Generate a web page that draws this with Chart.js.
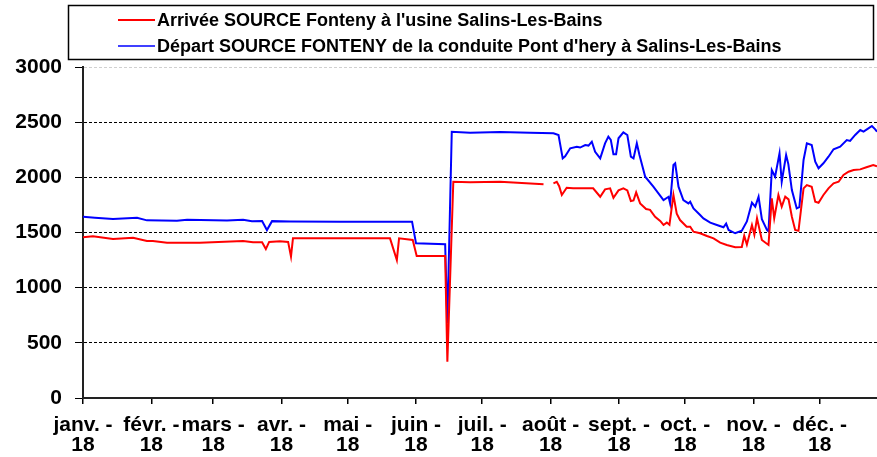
<!DOCTYPE html>
<html lang="fr">
<head>
<meta charset="UTF-8">
<title>Débits SOURCE Fonteny 2018</title>
<script src="https://cdn.jsdelivr.net/npm/chart.js"></script>
<style>
  html, body { margin: 0; padding: 0; background: #fff; }
  #wrap { width: 877px; height: 457px; position: relative; }
</style>
</head>
<body>
<div id="wrap"><canvas id="debitChart"></canvas></div>
<script>
// jours depuis le 1er janvier 2018
const monthStarts = [0, 31, 59, 90, 120, 151, 181, 212, 243, 273, 304, 334];
const monthLabels = ['janv. -', 'févr. -', 'mars -', 'avr. -', 'mai -', 'juin -',
                     'juil. -', 'août -', 'sept. -', 'oct. -', 'nov. -', 'déc. -'];
const yearLabel = '18';

const redLabel = "Arrivée SOURCE Fonteny à l'usine Salins-Les-Bains";
const blueLabel = "Départ SOURCE FONTENY de la conduite Pont d'hery à Salins-Les-Bains";

const redDays = [0, 4.5, 13.6, 22.7, 29, 31.7, 38.1, 53, 72.6, 77.1, 81.2, 82.9, 84.4, 89.3, 93, 94.3, 95.2,
  116.6, 139.2, 142.3, 143.3, 149.5, 151.3, 164.2, 165.2, 167.9, 175.5, 189.1, 208.8, 210.5,
  213.3, 214.8, 215.9, 217.1, 219.3, 222.2, 231.3, 234.5, 236.7, 239, 240.5, 242.8, 245, 246.8,
  248.4, 249.6, 250.8, 252.6, 255.3, 257.1, 259.4, 261.7, 263.2, 264.7, 265.9, 267.7, 269.2,
  270.7, 273.7, 275.3, 276.8, 279.8, 282.9, 285.9, 288.9, 291.9, 295.7, 298.7, 299.8, 301,
  303.3, 304.4, 305.6, 307.8, 310.8, 312.3, 313.4, 315.3, 316.8, 318.4, 319.9, 321.4, 322.9,
  324.4, 326.7, 328.2, 330.4, 332, 333.5, 335.7, 338, 340.3, 342.6, 344.8, 347.1, 349.4,
  352.4, 355.2, 358.3, 360];
const redValues = [1456, 1466, 1441, 1452, 1423, 1423, 1408, 1408, 1423, 1412, 1412, 1350, 1415, 1420, 1415, 1281, 1447,
  1447, 1447, 1251, 1447, 1432, 1287, 1287, 329, 1960, 1955, 1960, 1937, null,
  1946, 1960, 1920, 1840, 1906, 1900, 1900, 1824, 1891, 1900, 1815, 1882, 1900, 1882,
  1785, 1790, 1864, 1764, 1713, 1705, 1643, 1605, 1568, 1590, 1570, 1840, 1670,
  1613, 1553, 1553, 1507, 1493, 1468, 1447, 1408, 1387, 1366, 1368, 1470, 1390,
  1568, 1480, 1628, 1432, 1387, 1810, 1628, 1840, 1734, 1824, 1800, 1643, 1523,
  1515, 1900, 1930, 1915, 1779, 1770, 1840, 1900, 1946, 1960, 2021, 2051, 2066,
  2072, 2091, 2112, 2100];

const blueDays = [0, 5.4, 13.6, 24.5, 29, 42.6, 47.2, 65.3, 72.6, 76.6, 81.2, 83.4, 85.7, 93.9, 116.6,
  149.2, 151, 164.2, 165.2, 167.2, 175.5, 189.1, 202.7, 213.3, 215.6, 217.5, 218.6, 220.9,
  223.9, 225.4, 227.7, 229.2, 230.7, 232.2, 234.5, 236.7, 238.2, 239.3, 240.5, 241.7, 242.8,
  245, 246.8, 248.4, 249.6, 251.1, 252.3, 254.9, 258.6, 263.2, 265.5, 266.2, 267.7, 268.5,
  270, 272.2, 274.5, 275.3, 276.8, 279.8, 281.3, 284.4, 287.4, 290.4, 291.6, 292.7, 295.7,
  298.7, 301, 303.3, 304.8, 306.3, 307.8, 310.1, 310.8, 312.3, 313.8, 315.8, 316.8, 318.8,
  319.8, 321.4, 323.6, 324.8, 326.7, 328.2, 330.4, 332, 333.5, 335.7, 338, 340.3, 343.3,
  346.3, 347.8, 350.1, 352.4, 353.9, 356.1, 357.7, 359.2, 360];
const blueValues = [1643, 1634, 1622, 1634, 1610, 1607, 1616, 1608, 1616, 1601, 1603, 1522, 1603, 1600, 1598,
  1598, 1402, 1393, 677, 2413, 2405, 2410, 2405, 2400, 2384, 2172, 2190, 2263,
  2278, 2270, 2293, 2288, 2323, 2232, 2172, 2308, 2369, 2340, 2209, 2209, 2354,
  2408, 2384, 2187, 2172, 2308, 2202, 2006, 1915, 1794, 1824, 1764, 2112, 2127,
  1915, 1794, 1764, 1779, 1719, 1658, 1628, 1589, 1568, 1547, 1580, 1523, 1493,
  1516, 1600, 1770, 1734, 1824, 1620, 1523, 1510, 2066, 2006, 2218, 1960, 2202,
  2120, 1885, 1719, 1730, 2157, 2308, 2293, 2142, 2082, 2127, 2187, 2254, 2278,
  2338, 2330, 2384, 2429, 2414, 2444, 2465, 2435, 2414];

function toPoints(days, values) {
    return days.map((d, i) => ({ x: d, y: values[i] }));
}

// cadre de légende dessiné à la main, comme dans le graphique Excel
const legendBox = {
    id: 'legendBox',
    afterDraw(chart) {
        const ctx = chart.ctx;
        ctx.save();
        ctx.strokeStyle = '#000';
        ctx.lineWidth = 1.5;
        ctx.strokeRect(68.5, 5.5, 805, 54);
        ctx.font = 'bold 18px "Liberation Sans", Arial, sans-serif';
        ctx.textBaseline = 'middle';
        ctx.fillStyle = '#000';
        chart.data.datasets.forEach((ds, i) => {
            const y = i === 0 ? 20 : 46;
            ctx.strokeStyle = ds.borderColor;
            ctx.lineWidth = i === 0 ? 2 : 1.5;
            ctx.beginPath();
            ctx.moveTo(118, y);
            ctx.lineTo(155, y);
            ctx.stroke();
            ctx.fillText(ds.label, 157, y + 1);
        });
        ctx.restore();
    }
};

const ctx = document.getElementById('debitChart').getContext('2d');
new Chart(ctx, {
    type: 'line',
    data: {
        datasets: [{
            label: redLabel,
            data: toPoints(redDays, redValues),
            borderColor: '#ff0000',
            borderWidth: 2,
            pointRadius: 0,
            tension: 0,
            spanGaps: false
        }, {
            label: blueLabel,
            data: toPoints(blueDays, blueValues),
            borderColor: '#0000ff',
            borderWidth: 2,
            pointRadius: 0,
            tension: 0
        }]
    },
    options: {
        responsive: true,
        maintainAspectRatio: false,
        animation: false,
        layout: { padding: { top: 67, right: 0, left: 0, bottom: 0 } },
        plugins: {
            legend: { display: false },
            tooltip: { enabled: false }
        },
        scales: {
            x: {
                type: 'linear',
                min: 0,
                max: 360,
                afterBuildTicks: (scale) => {
                    scale.ticks = monthStarts.map(v => ({ value: v }));
                },
                afterFit: (scale) => { scale.height = 59; },
                ticks: {
                    autoSkip: false,
                    maxRotation: 0,
                    minRotation: 0,
                    padding: 12,
                    color: '#000',
                    font: { family: '"Liberation Sans", Arial, sans-serif', size: 21, weight: 'bold', lineHeight: 0.92 },
                    callback: (value, index) => [monthLabels[index], yearLabel]
                },
                grid: {
                    drawOnChartArea: false,
                    drawTicks: true,
                    tickLength: 6,
                    tickColor: '#000',
                    lineWidth: 1.5
                },
                border: { display: true, color: '#222', width: 2 }
            },
            y: {
                min: 0,
                max: 3000,
                afterFit: (scale) => { scale.width = 83; },
                ticks: {
                    stepSize: 500,
                    padding: 13,
                    color: '#000',
                    font: { family: '"Liberation Sans", Arial, sans-serif', size: 21, weight: 'bold' },
                    callback: (value) => String(value)
                },
                grid: {
                    color: (c) => c.tick && c.tick.value === 3000 ? '#d0d0d0' : '#000',
                    lineWidth: 1,
                    tickLength: 8,
                    tickColor: '#000'
                },
                border: { display: true, color: '#222', width: 2, dash: [3, 2] }
            }
        }
    },
    plugins: [legendBox]
});
</script>
</body>
</html>
